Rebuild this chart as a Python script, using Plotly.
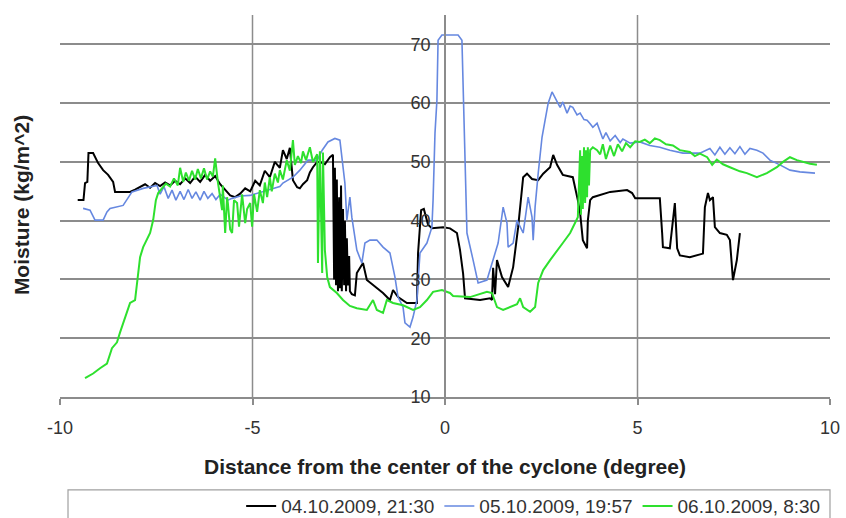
import plotly.graph_objects as go

# ---------------- data ----------------
series_names = ["04.10.2009, 21:30", "05.10.2009, 19:57", "06.10.2009, 8:30"]
x_ticks = [-10, -5, 0, 5, 10]
y_ticks = [10, 20, 30, 40, 50, 60, 70]
x_grid = [-5, 0, 5]

black_x = [-9.54, -9.39, -9.35, -9.29, -9.26, -9.14, -9.01, -8.88, -8.75, -8.62,
           -8.57, -8.44, -8.18, -8.05, -7.92, -7.79, -7.66, -7.53, -7.40, -7.27,
           -7.14, -7.01, -6.88, -6.75, -6.62, -6.49, -6.36, -6.23, -6.10, -5.97,
           -5.84, -5.71, -5.58, -5.45, -5.32, -5.19, -5.06, -4.93, -4.81, -4.68,
           -4.55, -4.42, -4.29, -4.21, -4.11, -4.03, -3.95, -3.84, -3.77, -3.69,
           -3.58, -3.51, -3.43, -3.32, -3.25, -3.12, -2.99, -2.91, -2.88, -2.86,
           -2.83, -2.81, -2.78, -2.75, -2.73, -2.70, -2.68, -2.65, -2.62, -2.60,
           -2.57, -2.55, -2.52, -2.49, -2.47, -2.42, -2.34, -2.29, -2.13, -2.03,
           -1.77, -1.61, -1.43, -1.35, -1.22, -0.99, -0.73, -0.70, -0.62, -0.55,
           -0.44, -0.34, -0.05, 0.13, 0.31, 0.39, 0.47, 0.52, 0.91, 1.17,
           1.22, 1.25, 1.30, 1.35, 1.48, 1.64, 1.77, 1.90, 2.03, 2.13,
           2.26, 2.42, 2.55, 2.73, 2.81, 2.91, 3.06, 3.32, 3.45, 3.51,
           3.58, 3.69, 3.71, 3.77, 3.84, 4.03, 4.29, 4.73, 4.86, 4.94,
           5.58, 5.64, 5.66, 5.84, 5.97, 6.03, 6.10, 6.36, 6.55, 6.70,
           6.75, 6.83, 6.88, 6.96, 7.01, 7.14, 7.32, 7.40, 7.48, 7.58, 7.66]
black_y = [43.5, 43.5, 46.4, 46.6, 51.5, 51.5, 49.8, 48.6, 47.8, 46.6,
           44.9, 44.9, 44.9, 45.3, 45.8, 46.2, 45.6, 46.4, 45.9, 46.5,
           46.0, 46.8, 46.2, 47.2, 46.4, 47.5, 46.6, 47.8, 46.8, 47.6,
           46.2, 45.2, 44.3, 44.0, 44.6, 45.5, 45.0, 46.8, 46.0, 48.5,
           47.4, 50.0, 49.0, 52.0, 50.5, 52.4, 46.9, 45.7, 45.5, 46.2,
           46.9, 48.2, 49.1, 50.0, 50.0, 49.6, 50.8, 51.2, 30.0, 49.0,
           29.0, 47.0, 28.0, 44.0, 28.5, 46.0, 28.0, 42.0, 29.0, 40.0,
           28.0, 37.0, 29.0, 34.0, 28.0, 27.5, 27.3, 31.1, 32.8, 29.9,
           28.5, 27.7, 26.5, 28.2, 27.0, 26.0, 26.0, 34.5, 41.8, 42.0,
           39.3, 38.7, 38.9, 38.7, 37.9, 35.0, 31.0, 26.8, 26.5, 26.8,
           26.5, 32.0, 27.5, 33.3, 30.4, 28.7, 32.1, 38.9, 47.4, 48.0,
           47.1, 46.9, 48.0, 49.1, 51.2, 49.5, 47.8, 47.4, 43.5, 41.3,
           36.7, 35.3, 40.0, 43.5, 44.0, 44.4, 44.9, 45.2, 44.7, 43.8,
           43.8, 37.9, 35.5, 35.3, 43.0, 35.3, 34.1, 33.8, 34.1, 34.4,
           42.3, 44.7, 43.5, 44.0, 38.9, 37.9, 37.6, 36.7, 29.9, 33.3, 37.9]

blue_x = [-9.40, -9.22, -9.09, -8.88, -8.78, -8.70, -8.36, -8.23, -8.13, -7.84,
          -7.48, -7.40, -7.30, -7.19, -7.09, -6.99, -6.88, -6.78, -6.67, -6.57,
          -6.47, -6.36, -6.26, -6.16, -6.05, -5.95, -5.84, -5.74, -5.64, -5.53,
          -5.32, -5.06, -4.81, -4.55, -4.29, -4.21, -3.95, -3.77, -3.56, -3.32,
          -3.19, -3.04, -2.86, -2.73, -2.68, -2.60, -2.55, -2.47, -2.42, -2.29,
          -2.16, -2.08, -1.95, -1.77, -1.61, -1.43, -1.30, -1.22, -1.09, -1.04,
          -0.91, -0.83, -0.73, -0.65, -0.47, -0.34, -0.31, -0.26, -0.21, -0.18,
          -0.08, 0.34, 0.44, 0.47, 0.52, 0.57, 0.73, 0.86, 1.09, 1.17,
          1.25, 1.38, 1.51, 1.61, 1.64, 1.77, 1.87, 1.95, 2.03, 2.16,
          2.26, 2.29, 2.34, 2.42, 2.52, 2.60, 2.68, 2.78, 2.86, 2.99,
          3.06, 3.17, 3.25, 3.32, 3.43, 3.51, 3.61, 3.69, 3.77, 3.84,
          3.95, 4.03, 4.10, 4.18, 4.29, 4.42, 4.55, 4.62, 4.81, 5.06,
          5.32, 5.58, 5.84, 6.18, 6.62, 6.88, 7.01, 7.14, 7.27, 7.40,
          7.53, 7.66, 7.79, 7.92, 8.10, 8.26, 8.44, 8.70, 8.96, 9.22, 9.61]
blue_y = [42.1, 41.8, 40.1, 40.1, 41.5, 42.1, 42.6, 44.0, 44.9, 45.5,
          46.0, 44.5, 45.8, 43.8, 45.2, 43.5, 45.0, 43.6, 45.3, 43.8,
          44.9, 43.5, 45.0, 43.8, 44.6, 43.6, 44.5, 44.0, 43.5, 43.8,
          44.2, 44.3, 44.8, 45.2, 45.8, 46.4, 47.4, 48.6, 50.3, 50.3,
          52.0, 53.4, 54.0, 53.7, 50.6, 46.4, 40.1, 44.0, 40.6, 35.0,
          32.8, 36.2, 36.7, 36.7, 35.5, 34.5, 30.4, 27.0, 25.3, 22.6,
          21.9, 23.6, 26.5, 34.5, 36.2, 38.9, 43.5, 54.9, 60.5, 70.7,
          71.6, 71.6, 70.7, 62.7, 49.8, 37.9, 33.3, 29.4, 29.9, 31.6,
          33.3, 36.2, 42.3, 39.6, 35.5, 36.2, 40.1, 38.9, 37.9, 44.0,
          40.6, 36.7, 42.3, 48.0, 54.2, 57.1, 60.0, 61.9, 61.0, 59.3,
          60.2, 58.3, 59.5, 59.3, 58.0, 58.3, 57.2, 57.1, 56.5, 55.9,
          56.6, 55.0, 53.9, 55.0, 53.6, 54.5, 53.3, 53.9, 53.2, 53.4,
          52.8, 52.5, 52.0, 51.5, 51.5, 52.3, 51.2, 52.5, 51.3, 52.4,
          51.4, 52.6, 51.3, 52.3, 52.0, 51.5, 50.3, 49.5, 48.6, 48.3, 48.1]

green_x = [-9.35, -9.14, -8.96, -8.78, -8.65, -8.52, -8.44, -8.36, -8.26, -8.18,
           -8.05, -8.00, -7.97, -7.92, -7.84, -7.74, -7.66, -7.58, -7.51, -7.45,
           -7.35, -7.25, -7.14, -7.04, -6.94, -6.88, -6.80, -6.73, -6.65, -6.57,
           -6.49, -6.42, -6.34, -6.26, -6.18, -6.10, -6.03, -5.97, -5.90, -5.84,
           -5.79, -5.77, -5.71, -5.66, -5.64, -5.58, -5.53, -5.48, -5.40, -5.35,
           -5.32, -5.27, -5.19, -5.14, -5.06, -5.01, -4.96, -4.88, -4.81, -4.73,
           -4.68, -4.62, -4.55, -4.50, -4.42, -4.34, -4.29, -4.21, -4.11, -4.03,
           -3.95, -3.90, -3.82, -3.74, -3.69, -3.61, -3.51, -3.43, -3.32, -3.30,
           -3.25, -3.19, -3.17, -3.12, -3.06, -2.99, -2.81, -2.65, -2.47, -2.29,
           -2.03, -1.87, -1.77, -1.61, -1.51, -1.35, -1.09, -0.83, -0.65, -0.47,
           -0.31, -0.08, 0.13, 0.21, 0.65, 1.09, 1.22, 1.35, 1.51, 1.69,
           1.87, 1.95, 2.03, 2.21, 2.34, 2.42, 2.55, 2.73, 2.91, 3.06,
           3.25, 3.38, 3.45, 3.51, 3.53, 3.56, 3.58, 3.61, 3.64, 3.66,
           3.69, 3.71, 3.74, 3.77, 3.84, 3.95, 4.03, 4.10, 4.18, 4.29,
           4.39, 4.49, 4.60, 4.70, 4.81, 4.94, 5.06, 5.19, 5.32, 5.45,
           5.58, 5.74, 5.92, 6.10, 6.36, 6.49, 6.62, 6.81, 6.94, 7.06,
           7.22, 7.40, 7.66, 7.84, 8.10, 8.36, 8.62, 8.78, 8.96, 9.14, 9.35, 9.48, 9.66]
green_y = [13.2, 14.0, 14.9, 15.7, 18.3, 19.3, 21.0, 22.6, 24.3, 26.0,
           26.5, 29.4, 31.6, 33.8, 35.5, 36.7, 37.9, 40.1, 43.5, 44.7,
           45.5, 46.3, 45.8, 47.2, 46.0, 49.0, 46.6, 48.2, 46.8, 48.5,
           47.0, 48.8, 47.2, 48.9, 47.0, 48.4, 47.5, 50.6, 46.6, 44.0,
           41.8, 46.0, 37.9, 44.0, 43.0, 38.5, 37.9, 43.5, 43.0, 39.0,
           40.8, 44.5, 39.6, 42.0, 43.0, 39.0, 44.5, 41.5, 45.2, 43.0,
           46.5, 44.0, 47.4, 45.0, 48.0, 46.5, 48.6, 47.0, 50.3, 48.5,
           53.7, 49.5, 51.0, 49.8, 51.8, 50.3, 52.5, 50.0, 51.3, 32.8,
           51.8, 31.1, 51.6, 35.0, 30.4, 28.7, 27.7, 26.5, 25.5, 25.1,
           24.8, 26.5, 24.8, 24.3, 26.5, 26.0, 25.6, 24.8, 25.3, 26.5,
           27.9, 28.2, 27.7, 27.2, 27.0, 27.9, 27.7, 25.3, 24.8, 25.3,
           25.8, 26.8, 25.3, 24.5, 25.3, 29.4, 31.6, 33.3, 35.0, 36.2,
           37.9, 39.6, 40.6, 52.0, 41.0, 51.0, 42.0, 52.5, 43.0, 52.0,
           44.0, 52.5, 46.0, 52.0, 52.5, 52.0, 51.3, 53.0, 50.5, 52.8,
           51.0, 53.0, 51.8, 53.2, 52.5, 53.5, 53.4, 53.8, 53.2, 54.0,
           53.7, 53.0, 52.8, 52.0, 51.7, 51.0, 51.4, 50.8, 49.5, 50.4,
           49.6, 49.1, 48.4, 48.1, 47.4, 48.1, 49.1, 50.0, 50.8, 50.3, 49.9, 49.7, 49.5]

# ---------------- figure ----------------
GRID = "#8c8c8c"
TXT = "#333333"
FONT = "Liberation Sans, Arial, sans-serif"

fig = go.Figure()
fig.add_trace(go.Scatter(x=black_x, y=black_y, mode="lines", name=series_names[0],
                         line=dict(color="#000000", width=2)))
fig.add_trace(go.Scatter(x=blue_x, y=blue_y, mode="lines", name=series_names[1],
                         line=dict(color="#6688e0", width=1.6)))
fig.add_trace(go.Scatter(x=green_x, y=green_y, mode="lines", name=series_names[2],
                         line=dict(color="#2ee02e", width=2)))

for v in x_grid:
    fig.add_shape(type="line", xref="x", yref="paper", x0=v, x1=v, y0=0, y1=1,
                  line=dict(color=GRID, width=1.5), layer="below")

# legend box
fig.add_shape(type="rect", xref="paper", yref="paper", x0=0.0104, x1=1.0,
              y0=-0.33, y1=-0.243, line=dict(color="#a0a0a0", width=1.2),
              fillcolor="rgba(0,0,0,0)")

fig.update_layout(
    width=846, height=518,
    margin=dict(l=60, r=16, t=15, b=121, autoexpand=False),
    paper_bgcolor="white", plot_bgcolor="white",
    font=dict(family=FONT, color=TXT, size=18),
    showlegend=True,
    legend=dict(orientation="h", x=0.995, xanchor="right", y=-0.236, yanchor="top",
                font=dict(size=19, color=TXT), bgcolor="rgba(0,0,0,0)",
                itemwidth=30, tracegroupgap=0),
    xaxis=dict(range=[-10, 10], tickvals=x_ticks, ticktext=[str(v) for v in x_ticks],
               showgrid=False, zeroline=False, showline=True, linecolor=GRID,
               linewidth=1.5, ticks="outside", ticklen=6, tickcolor=GRID,
               tickwidth=1.5, ticklabelstandoff=8, tickfont=dict(size=18, color=TXT)),
    yaxis=dict(range=[10, 75], tickvals=y_ticks, anchor="free", position=0.5,
               showgrid=True, gridcolor=GRID, gridwidth=1.5, zeroline=False,
               showline=True, linecolor=GRID, linewidth=1.5,
               ticks="outside", ticklen=10, tickcolor="rgba(0,0,0,0)",
               tickfont=dict(size=18, color=TXT)),
    annotations=[
        dict(text="<b>Distance from the center of the cyclone (degree)</b>",
             xref="paper", yref="paper", x=0.5, y=-0.181, xanchor="center",
             yanchor="middle", showarrow=False, font=dict(size=21, color="#222222")),
        dict(text="<b>Moisture (kg/m^2)</b>", xref="paper", yref="paper",
             x=-0.049, y=0.503, textangle=-90, xanchor="center", yanchor="middle",
             showarrow=False, font=dict(size=21, color="#222222")),
    ],
)

fig.write_html(
    "out.html",
    config={"displayModeBar": False},
    post_script="document.body.style.margin='0';document.body.style.overflow='hidden';",
)
